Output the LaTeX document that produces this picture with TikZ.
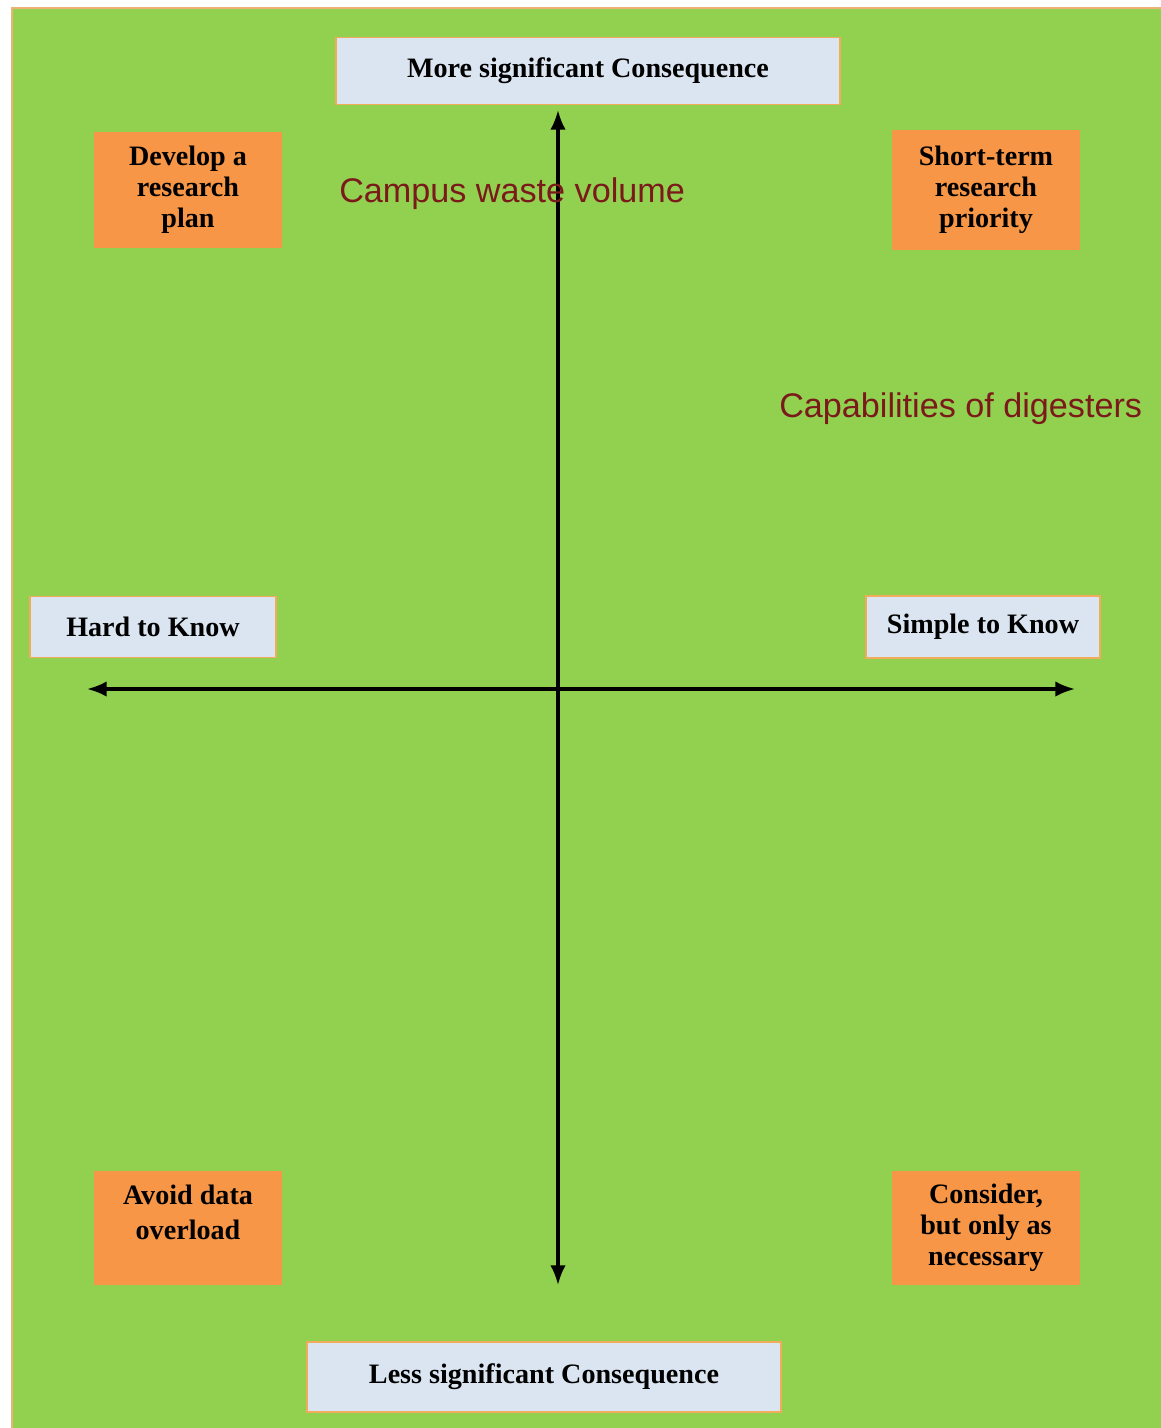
\documentclass[tikz,border=0pt]{standalone}
\usepackage{fontspec}
\setmainfont{Liberation Serif}
\setsansfont{Liberation Sans}
\usetikzlibrary{arrows.meta, positioning}

\definecolor{fieldgreen}{RGB}{146,208,80}
\definecolor{frameedge}{RGB}{236,178,120}
\definecolor{labelblue}{RGB}{219,229,241}
\definecolor{labeledge}{RGB}{240,172,90}
\definecolor{adviceorange}{RGB}{247,150,70}
\definecolor{factorred}{RGB}{122,26,26}

\begin{document}
\begin{tikzpicture}[x=0.025cm, y=-0.025cm,
    axislabel/.style={draw=labeledge, line width=1.2pt, fill=labelblue, inner sep=0pt,
        font=\bfseries\fontsize{20}{22}\selectfont},
    advice/.style={fill=adviceorange, inner sep=0pt, align=center,
        font=\bfseries\fontsize{20}{22}\selectfont},
    factor/.style={text=factorred, anchor=west, inner sep=0pt,
        font=\sffamily\fontsize{24.3}{28}\selectfont},
    axis/.style={line width=2.2pt, {Latex[length=14pt,width=11pt]}-{Latex[length=14pt,width=11pt]}}]
    \useasboundingbox (0, 0) rectangle (1160, 1428);
    \fill[white] (0, 0) rectangle (1160, 1428);
    \draw[fill=fieldgreen, draw=frameedge, line width=1pt] (12, 8) rectangle (1162, 1430);

    \node[axislabel, minimum width=12.58cm, minimum height=1.68cm] (more) at (588, 71) {More significant Consequence};
    \node[axislabel, minimum width=11.83cm, minimum height=1.75cm] (less) at (544, 1377) {Less significant Consequence};
    \node[axislabel, minimum width=6.15cm, minimum height=1.53cm] (hard) at (153, 627) {Hard to Know};
    \node[axislabel, minimum width=5.85cm, minimum height=1.55cm] (simple) at (983, 627) {Simple to Know};

    \node[advice, minimum width=4.68cm, minimum height=2.9cm] (develop) at (188, 190) {Develop a\\research\\plan};
    \node[advice, minimum width=4.68cm, minimum height=3cm] (shortterm) at (986, 190) {Short-term\\research\\priority};
    \node[advice, minimum width=4.68cm, minimum height=2.83cm] (avoid) at (188, 1228) {Avoid data\\[3pt]overload\\};
    \node[advice, minimum width=4.68cm, minimum height=2.83cm] (consider) at (986, 1228) {Consider,\\but only as\\necessary};

    \coordinate (top) at (558, 110);
    \coordinate (bottom) at (558, 1285);
    \coordinate (left) at (87, 689);
    \coordinate (right) at (1075, 689);

    \draw[axis] (top) -- (bottom);
    \draw[axis] (left) -- (right);

    \node[factor] (waste) at (339, 194) {Campus waste volume};
    \node[factor] (digesters) at (779, 409) {Capabilities of digesters};
\end{tikzpicture}
\end{document}
